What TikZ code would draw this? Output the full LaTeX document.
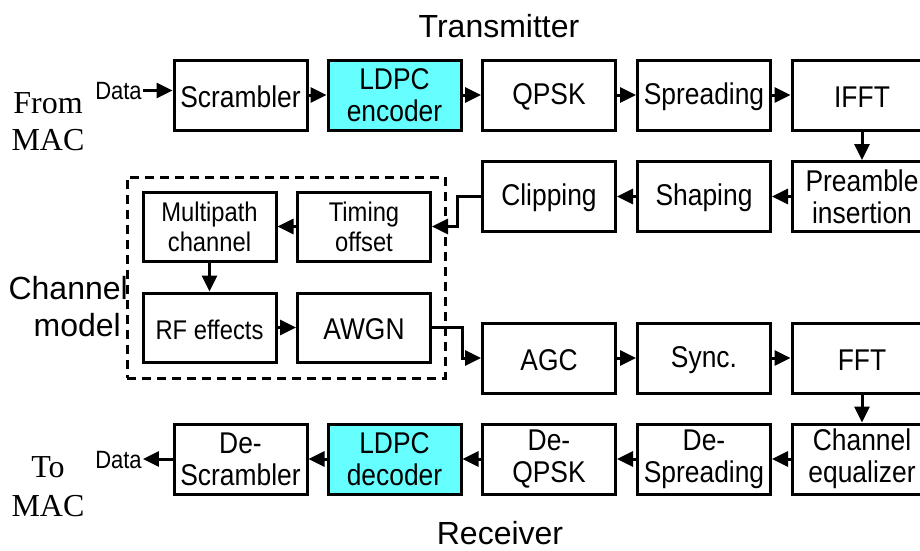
\documentclass[tikz,border=0pt]{standalone}
\usepackage{fontspec}
\newfontfamily\boxfont{Liberation Sans}[FakeStretch=0.88]
\newfontfamily\headfont{Liberation Sans}
\newfontfamily\macfont{Liberation Serif}
\usetikzlibrary{arrows.meta}
\definecolor{ldpccyan}{RGB}{102,255,255}
\begin{document}
\begin{tikzpicture}[x=1pt,y=-1pt,
  blk/.style={draw,line width=3pt,minimum width=133pt,minimum height=70pt,inner sep=0pt,align=center,
    font=\boxfont\fontsize{30}{32}\selectfont,execute at begin node={\rule{0pt}{25pt}}},
  wblk/.style={blk,minimum width=140pt},
  cblk/.style={blk,minimum height=69pt,font=\boxfont\fontsize{27}{30}\selectfont,execute at begin node={\rule{0pt}{23pt}}},
  ldpc/.style={blk,fill=ldpccyan},
  arr/.style={line width=3pt,-{Triangle[length=16pt,width=15pt]}},
  head/.style={font=\headfont\fontsize{32}{34}\selectfont,inner sep=0pt},
  mac/.style={font=\macfont\fontsize{32}{34}\selectfont,inner sep=0pt},
  datalbl/.style={font=\boxfont\fontsize{25}{26}\selectfont,inner sep=1pt},
  chbox/.style={draw,line width=3pt,dash pattern=on 9pt off 6pt}]
\useasboundingbox (0,0) rectangle (920,550);
% transmitter row 1
\node[blk]  (scr)  at (240.5,95) {Scrambler};
\node[ldpc] (enc)  at (394.5,95) {LDPC\\encoder};
\node[blk]  (qpsk) at (549,95)   {QPSK};
\node[blk]  (spr)  at (704,95)   {Spreading};
\node[wblk] (ifft) at (862,95)   {IFFT};
% row 2
\node[wblk] (pre)  at (862,196.5) {Preamble\\insertion};
\node[blk]  (shp)  at (704,196.5) {Shaping};
\node[blk]  (clip) at (549,196.5) {Clipping};
% channel model
\node[chbox,minimum width=318pt,minimum height=201pt] (chan) at (286,277.5) {};
\node[cblk] (mp)   at (209.5,226.5) {Multipath\\channel};
\node[cblk] (tim)  at (364,226.5)   {Timing\\offset};
\node[cblk] (rf)   at (209.5,327.5) {RF effects};
\node[cblk,font=\boxfont\fontsize{30}{31}\selectfont] (awgn) at (364,327.5) {AWGN};
% receiver row 3
\node[blk]  (agc)  at (549,358) {AGC};
\node[blk]  (sync) at (704,358) {Sync.};
\node[wblk] (fft)  at (862,358) {FFT};
% row 4
\node[wblk] (eq)   at (862,459) {Channel\\equalizer};
\node[blk]  (dspr) at (704,459) {De-\\Spreading};
\node[blk]  (dqpsk) at (549,459) {De-\\QPSK};
\node[ldpc] (dec)  at (394.5,459) {LDPC\\decoder};
\node[blk]  (dscr) at (240.5,459) {De-\\Scrambler};
% labels
\node[head,anchor=base] (tx) at (499,37) {Transmitter};
\node[head,anchor=base] (rx) at (500,544) {Receiver};
\node[head,anchor=base east] (chl1) at (128,299) {Channel};
\node[head,anchor=base east] (chl2) at (121,336) {model};
\node[mac,anchor=base] (from) at (48,113) {From};
\node[mac,anchor=base] (mac1) at (48,150) {MAC};
\node[mac,anchor=base] (to)   at (48,477) {To};
\node[mac,anchor=base] (mac2) at (48,516) {MAC};
\node[datalbl,anchor=base] (din)  at (118.5,99)  {Data};
\node[datalbl,anchor=base] (dout) at (118.5,468) {Data};
% connectors
\draw[arr] (din.east) -- (din.east -| scr.west);
\draw[arr] (scr) -- (enc);
\draw[arr] (enc) -- (qpsk);
\draw[arr] (qpsk) -- (spr);
\draw[arr] (spr) -- (ifft);
\draw[arr] (ifft) -- (pre);
\draw[arr] (pre) -- (shp);
\draw[arr] (shp) -- (clip);
\draw[arr] (clip.west) -- ++(-24,0) |- (tim.east);
\draw[arr] (tim) -- (mp);
\draw[arr] (mp) -- (rf);
\draw[arr] (rf) -- (awgn);
\draw[arr] (awgn.east) -- ++(30,0) |- (agc.west);
\draw[arr] (agc) -- (sync);
\draw[arr] (sync) -- (fft);
\draw[arr] (fft) -- (eq);
\draw[arr] (eq) -- (dspr);
\draw[arr] (dspr) -- (dqpsk);
\draw[arr] (dqpsk) -- (dec);
\draw[arr] (dec) -- (dscr);
\draw[arr] (dscr.west) -- (dscr.west -| dout.east);
\end{tikzpicture}
\end{document}
